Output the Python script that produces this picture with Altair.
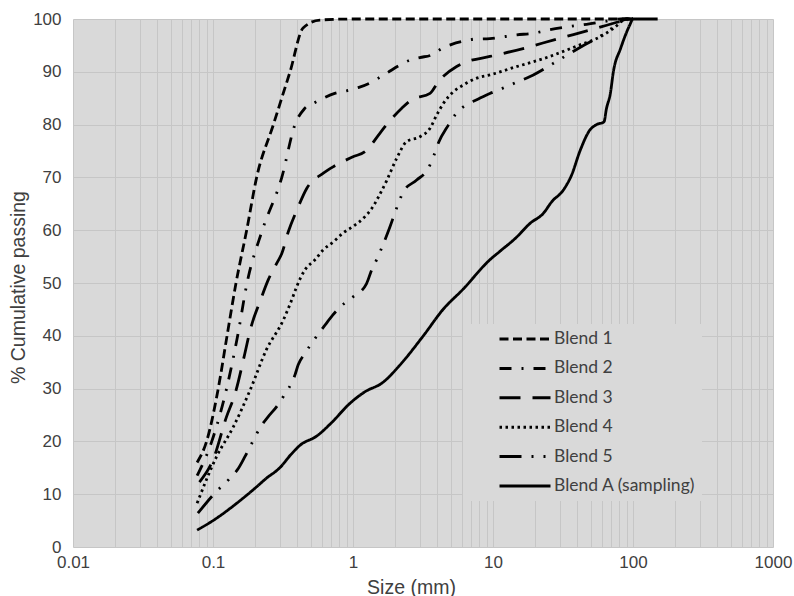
import altair as alt
import pandas as pd

# ---- data ----
blend1_x = [0.077, 0.09, 0.109, 0.126, 0.146, 0.174, 0.205, 0.27, 0.327, 0.355, 0.44, 0.58, 1, 10, 100]
blend1_y = [16, 20, 30, 40, 50, 60, 70, 80, 87, 90, 98.3, 99.8, 100, 100, 100]

blend2_x = [0.077, 0.098, 0.125, 0.15, 0.175, 0.225, 0.31, 0.385, 0.45, 0.535, 0.614, 0.74, 0.9, 1.09,
            1.3, 1.52, 1.78, 2.11, 2.55, 3.0, 3.65, 4.3, 5.07, 6.14, 7.4, 9.5, 14.8, 19.4, 25.6, 33.6,
            46.6, 64.6, 81.5, 100]
blend2_y = [13.5, 20, 30, 40, 50, 60, 70, 80, 83, 84.2, 85, 85.9, 86.4, 87, 87.8, 88.8, 89.9, 91.1,
            92.2, 92.7, 93.2, 94.4, 95.2, 95.8, 96.2, 96.3, 97, 97.3, 98, 98.5, 99, 99.6, 100, 100]

blend3_x = [0.08, 0.1, 0.125, 0.144, 0.169, 0.184, 0.22, 0.248, 0.285, 0.31, 0.345, 0.4, 0.467, 0.614,
            0.72, 1.0, 1.22, 1.56, 1.74, 2.23, 2.62, 3.55, 4.07, 5.5, 6.5, 9.5, 16.4, 28.5, 49.3, 80.7, 100]
blend3_y = [12.3, 16.5, 24.7, 29.1, 36.7, 41, 47, 50.6, 53.7, 55.6, 59.7, 64, 67.9, 70.8, 72, 73.9,
            74.9, 78.4, 80, 83.1, 84.7, 85.9, 88.1, 91, 91.9, 92.9, 94.4, 96.2, 97.9, 99.5, 100]

blend4_x = [0.077, 0.106, 0.14, 0.184, 0.24, 0.318, 0.365, 0.396, 0.454, 0.535, 0.614, 0.724, 0.853, 1.0,
            1.19, 1.36, 1.52, 1.74, 2.05, 2.42, 3.01, 3.55, 3.96, 4.42, 5.2, 6.14, 7.65, 9.5, 14, 24.2,
            41.8, 55, 72.4, 90, 100]
blend4_y = [8.3, 17.1, 22.8, 29.7, 37.3, 43, 46.8, 49.3, 52.5, 54.4, 56.3, 57.8, 59.5, 60.7, 62.3, 64.1,
            66.3, 69.4, 73.6, 76.8, 77.7, 79.3, 81.8, 84, 86.2, 87.5, 88.8, 89.4, 90.8, 92.7, 95.1, 96.3,
            98.2, 100, 100]

blend5_x = [0.078, 0.103, 0.132, 0.152, 0.169, 0.184, 0.223, 0.248, 0.285, 0.318, 0.385, 0.406, 0.454,
            0.507, 0.63, 0.716, 0.82, 0.97, 1.25, 1.36, 1.48, 1.6, 1.84, 1.97, 2.11, 2.29, 2.85, 3.45,
            3.75, 4.07, 4.8, 5.42, 6.3, 7.65, 9.5, 10.6, 15.6, 18.4, 26.2, 36.5, 43, 59.7, 72, 90, 100]
blend5_y = [6.4, 10.2, 13, 14.9, 17.1, 19, 23.1, 24.7, 26.6, 28.5, 32.6, 34.5, 36.7, 38.6, 42, 43.9,
            45.6, 47.1, 49.9, 52.5, 54.5, 56.6, 60.7, 62.9, 65.1, 67.3, 69.5, 71.7, 73.9, 76.5, 79.9,
            82, 83.6, 84.7, 85.9, 86.4, 88.3, 89.1, 91.4, 93.7, 94.8, 96.9, 98.4, 100, 100]

blendA_x = [0.077, 0.1, 0.148, 0.205, 0.24, 0.30, 0.36, 0.42, 0.55, 0.7, 0.95, 1.2, 1.64, 2.17, 3.18,
            4.4, 6.1, 9.5, 11.2, 14.5, 18.4, 22.9, 26.3, 31.8, 36.5, 41.8, 49.3, 55, 62, 64.6, 69, 72.4,
            81.5, 95, 100, 150]
blendA_y = [3.2, 5, 8.3, 11.4, 13, 15, 17.5, 19.3, 21, 23.5, 27.2, 29.3, 31.2, 34.5, 40, 45, 48.8, 54.4,
            56, 58.5, 61.3, 63.2, 65.4, 67.6, 70.5, 75, 79, 80, 80.5, 83, 86, 90, 94.4, 98.9, 100, 100]

series_names = ["Blend 1", "Blend 2", "Blend 3", "Blend 4", "Blend 5", "Blend A (sampling)"]
series_x = [blend1_x, blend2_x, blend3_x, blend4_x, blend5_x, blendA_x]
series_y = [blend1_y, blend2_y, blend3_y, blend4_y, blend5_y, blendA_y]
dash_patterns = [[9, 4.5], [12, 10, 2, 10], [21, 12], [2.5, 3.5], [22, 10, 2, 10, 2, 10], [1, 0]]

x_grid_values = [m * 10.0 ** e for e in range(-2, 3) for m in range(1, 10)] + [1000]
y_values = list(range(0, 101, 10))

rows = []
for name, xs, ys in zip(series_names, series_x, series_y):
    for i, (xv, yv) in enumerate(zip(xs, ys)):
        rows.append({"series": name, "order": i, "size": xv, "passing": yv})
df = pd.DataFrame(rows)

label_expr_x = ("abs(log(datum.value)/LN10 - round(log(datum.value)/LN10)) < 0.000001 ? "
                "format(datum.value, '~g') : ''")

axis_font = "Liberation Sans, Arial, Helvetica, sans-serif"

chart = alt.Chart(df).mark_line(
    color="black", strokeWidth=2.8, interpolate="monotone"
).encode(
    x=alt.X("size:Q",
            scale=alt.Scale(type="log", domain=[0.01, 1000], nice=False),
            axis=alt.Axis(values=x_grid_values, labelExpr=label_expr_x, labelOverlap=False,
                          labelFlush=False, ticks=False, domain=False, grid=True,
                          labelPadding=7, title="Size (mm)", titleX=338, titleY=40,
                          titleBaseline="middle", titleAlign="center")),
    y=alt.Y("passing:Q",
            scale=alt.Scale(domain=[0, 100], nice=False),
            axis=alt.Axis(values=y_values, ticks=False, domain=False, grid=True, labelPadding=12,
                          title="% Cumulative passing", titleX=-55, titleY=268, titleAngle=270,
                          titleBaseline="middle", titleAlign="center")),
    strokeDash=alt.StrokeDash("series:N",
                              scale=alt.Scale(domain=series_names, range=dash_patterns),
                              legend=alt.Legend(orient="none", legendX=390, legendY=305, title=None,
                                                fillColor="#d9d9d9", padding=6, symbolType="stroke",
                                                symbolSize=2601, symbolStrokeWidth=3,
                                                symbolStrokeColor="black", symbolOffset=29,
                                                clipHeight=18, rowPadding=11.4, labelFont="Lato",
                                                labelFontSize=17.5, labelColor="#404040",
                                                labelOffset=2, labelLimit=400)),
    order="order:Q",
).properties(
    width=700, height=528,
    background="white",
    autosize=alt.AutoSizeParams(type="none"),
    padding={"left": 73, "top": 19, "right": 21, "bottom": 49},
).configure_view(
    fill="#d9d9d9", stroke="transparent"
).configure_axis(
    gridColor="#c6c6c6", gridWidth=1, labelFont=axis_font, labelFontSize=17,
    labelColor="#404040", titleFont=axis_font, titleFontSize=19.5, titleColor="#404040",
    titleFontWeight="normal"
)

chart.save("out.html", embed_options={"renderer": "svg", "actions": False})
